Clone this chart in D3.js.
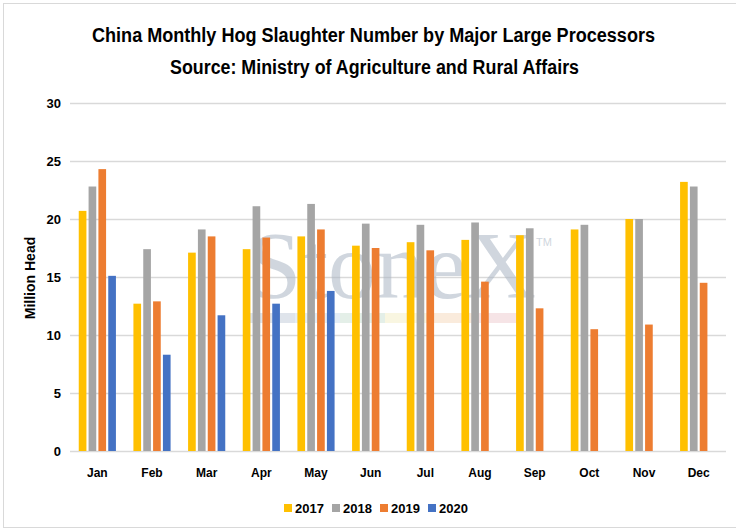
<!DOCTYPE html>
<html>
<head>
<meta charset="utf-8">
<script src="https://cdn.jsdelivr.net/npm/d3@7"></script>
<style>
  body { margin: 0; background: #fff; }
  svg { display: block; }
</style>
</head>
<body>
<div id="chart"></div>
<script>
// data
const months = ["Jan", "Feb", "Mar", "Apr", "May", "Jun", "Jul", "Aug", "Sep", "Oct", "Nov", "Dec"];
const years = ["2017", "2018", "2019", "2020"];
const v2017 = [20.7, 12.7, 17.1, 17.4, 18.5, 17.7, 18.0, 18.2, 18.6, 19.1, 20.0, 23.2];
const v2018 = [22.8, 17.4, 19.1, 21.1, 21.3, 19.6, 19.5, 19.7, 19.2, 19.5, 20.0, 22.8];
const v2019 = [24.3, 12.9, 18.5, 18.4, 19.1, 17.5, 17.3, 14.6, 12.3, 10.5, 10.9, 14.5];
const v2020 = [15.1, 8.3, 11.7, 12.7, 13.8, null, null, null, null, null, null, null];
const yTicks = [0, 5, 10, 15, 20, 25, 30];
const colors = ["#FFC000", "#A5A5A5", "#ED7D31", "#4472C4"];

const series = [v2017, v2018, v2019, v2020];
const W = 736, H = 531;
const plot = { left: 70, right: 726, top: 103, bottom: 451 };
const font = "'Liberation Sans', Arial, sans-serif";

const svg = d3.select("#chart").append("svg")
  .attr("width", W).attr("height", H)
  .style("font-family", font);

// outer frame
svg.append("rect")
  .attr("x", 3.5).attr("y", 3.5).attr("width", W).attr("height", 524)
  .attr("fill", "none").attr("stroke", "#d9d9d9");

// titles (squeezed to look like the narrow original font)
svg.append("text")
  .attr("x", 92).attr("y", 42)
  .attr("textLength", 563).attr("lengthAdjust", "spacingAndGlyphs")
  .style("font-size", "20px").style("font-weight", "bold")
  .text("China Monthly Hog Slaughter Number by Major Large Processors");
svg.append("text")
  .attr("x", 170).attr("y", 74)
  .attr("textLength", 409).attr("lengthAdjust", "spacingAndGlyphs")
  .style("font-size", "20px").style("font-weight", "bold")
  .text("Source: Ministry of Agriculture and Rural Affairs");

// scales
const x0 = d3.scaleBand().domain(months)
  .range([plot.left, plot.right])
  .paddingInner(0.32).paddingOuter(0.16);
const x1 = d3.scaleBand().domain(years)
  .range([0, x0.bandwidth()])
  .paddingInner(0.22);
const y = d3.scaleLinear().domain([0, 30]).range([plot.bottom, plot.top]);

// gridlines
svg.append("g")
  .selectAll("line")
  .data(yTicks)
  .enter().append("line")
  .attr("x1", plot.left).attr("x2", plot.right)
  .attr("y1", d => Math.round(y(d)) + 0.5).attr("y2", d => Math.round(y(d)) + 0.5)
  .attr("stroke", "#d9d9d9").attr("stroke-width", 1.5);

// watermark
const wm = svg.append("g").attr("opacity", 0.55);
wm.append("text")
  .attr("x", 248).attr("y", 298)
  .style("font-family", "'Liberation Serif', 'DejaVu Serif', serif")
  .style("font-size", "96px")
  .attr("fill", "#aab6c4")
  .text("StoneX");
wm.append("text")
  .attr("x", 536).attr("y", 246)
  .style("font-size", "11px")
  .attr("fill", "#aab6c4")
  .text("TM");
const stripColors = ["#c5cedb", "#cfe0f0", "#cfe2d6", "#f5efc9", "#f6dcc0", "#f0cfd2"];
wm.selectAll("rect.strip")
  .data(stripColors)
  .enter().append("rect")
  .attr("class", "strip")
  .attr("x", (d, i) => 250 + i * 45).attr("y", 313)
  .attr("width", 45).attr("height", 10)
  .attr("fill", d => d);

// bars
const groups = svg.append("g")
  .selectAll("g")
  .data(series)
  .enter().append("g")
  .attr("fill", (d, i) => colors[i]);

groups.each(function (vals, si) {
  d3.select(this).selectAll("rect")
    .data(vals.map((v, mi) => ({ v: v, m: months[mi] })).filter(d => d.v !== null))
    .enter().append("rect")
    .attr("x", d => x0(d.m) + x1(years[si]))
    .attr("y", d => y(d.v))
    .attr("width", x1.bandwidth())
    .attr("height", d => y(0) - y(d.v));
});

// y axis labels
const yAxis = svg.append("g")
  .attr("transform", "translate(" + (plot.left - 9) + ",0)")
  .call(d3.axisLeft(y).tickValues(yTicks).tickSize(0).tickPadding(0));
yAxis.select(".domain").remove();
yAxis.selectAll("text")
  .style("font-family", font)
  .style("font-size", "13px").style("font-weight", "bold").attr("fill", "#000");

// x axis labels
const xAxis = svg.append("g")
  .attr("transform", "translate(0," + (plot.bottom + 17) + ")")
  .call(d3.axisBottom(x0).tickSize(0).tickPadding(0));
xAxis.select(".domain").remove();
xAxis.selectAll("text")
  .style("font-family", font)
  .style("font-size", "12px").style("font-weight", "bold").attr("fill", "#000");

// y axis title
svg.append("text")
  .attr("transform", "translate(35," + 278 + ") rotate(-90)")
  .attr("text-anchor", "middle")
  .style("font-size", "14px").style("font-weight", "bold")
  .text("Million Head");

// legend
const legend = svg.append("g").attr("transform", "translate(284,502)");
const legItem = legend.selectAll("g")
  .data(years)
  .enter().append("g")
  .attr("transform", (d, i) => "translate(" + i * 48 + ",0)");
legItem.append("rect")
  .attr("x", 0).attr("y", 2).attr("width", 8).attr("height", 8)
  .attr("fill", (d, i) => colors[i]);
legItem.append("text")
  .attr("x", 11).attr("y", 11)
  .style("font-size", "13px").style("font-weight", "bold")
  .text(d => d);
</script>
</body>
</html>
